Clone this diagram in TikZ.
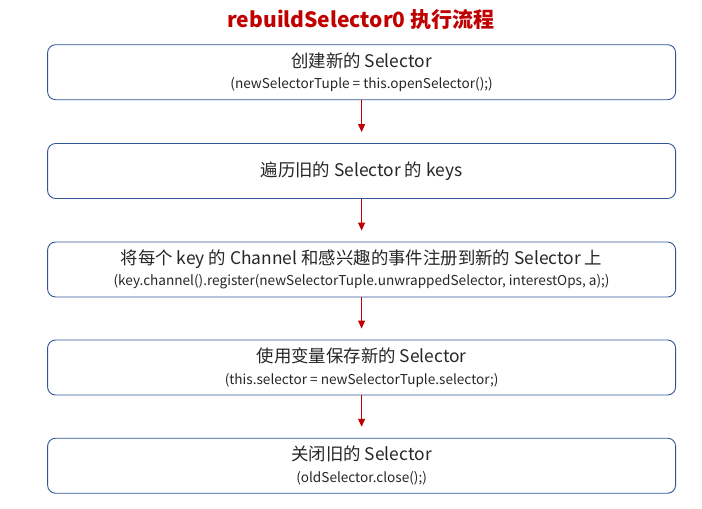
\documentclass[tikz,border=0pt]{standalone}
\usepackage{fontspec}
\setmainfont{Noto Sans CJK SC}
\usetikzlibrary{arrows.meta}

\definecolor{boxblue}{HTML}{2F5597}
\definecolor{flowred}{HTML}{C00000}
\definecolor{txtgray}{HTML}{262626}

\tikzset{
  stepbox/.style={draw=boxblue, line width=0.9pt, rounded corners=8pt,
    minimum width=628pt, minimum height=55pt, align=center, text=txtgray,
    font=\fontsize{17.4}{21.5}\selectfont},
  flow/.style={draw=flowred, line width=1.1pt, shorten >=11pt,
    -{Triangle[width=7pt,length=8pt]}},
}
\newcommand{\stepcode}[1]{{\fontsize{13.6}{21.5}\selectfont #1}}

\begin{document}
\begin{tikzpicture}[x=1pt,y=-1pt]
            \useasboundingbox (0,0) rectangle (702,509);
            % Title
            \node[text=flowred, font=\bfseries\fontsize{21}{25}\selectfont] (title) at (361,20) {rebuildSelector0 执行流程};

            % Steps
            \node[stepbox] (s1) at (361.6,72.2) {创建新的 Selector\\\stepcode{(newSelectorTuple = this.openSelector();)}};
            \node[stepbox] (s2) at (361.6,171) {遍历旧的 Selector 的 keys};
            \node[stepbox] (s3) at (361.6,269.5) {将每个 key 的 Channel 和感兴趣的事件注册到新的 Selector 上\\\stepcode{(key.channel().register(newSelectorTuple.unwrappedSelector, interestOps, a);)}};
            \node[stepbox] (s4) at (361.6,367.5) {使用变量保存新的 Selector\\\stepcode{(this.selector = newSelectorTuple.selector;)}};
            \node[stepbox] (s5) at (361.6,465.7) {关闭旧的 Selector\\\stepcode{(oldSelector.close();)}};

            % Flow
            \draw[flow] (s1) -- (s2);
            \draw[flow] (s2) -- (s3);
            \draw[flow] (s3) -- (s4);
            \draw[flow] (s4) -- (s5);
\end{tikzpicture}
\end{document}
